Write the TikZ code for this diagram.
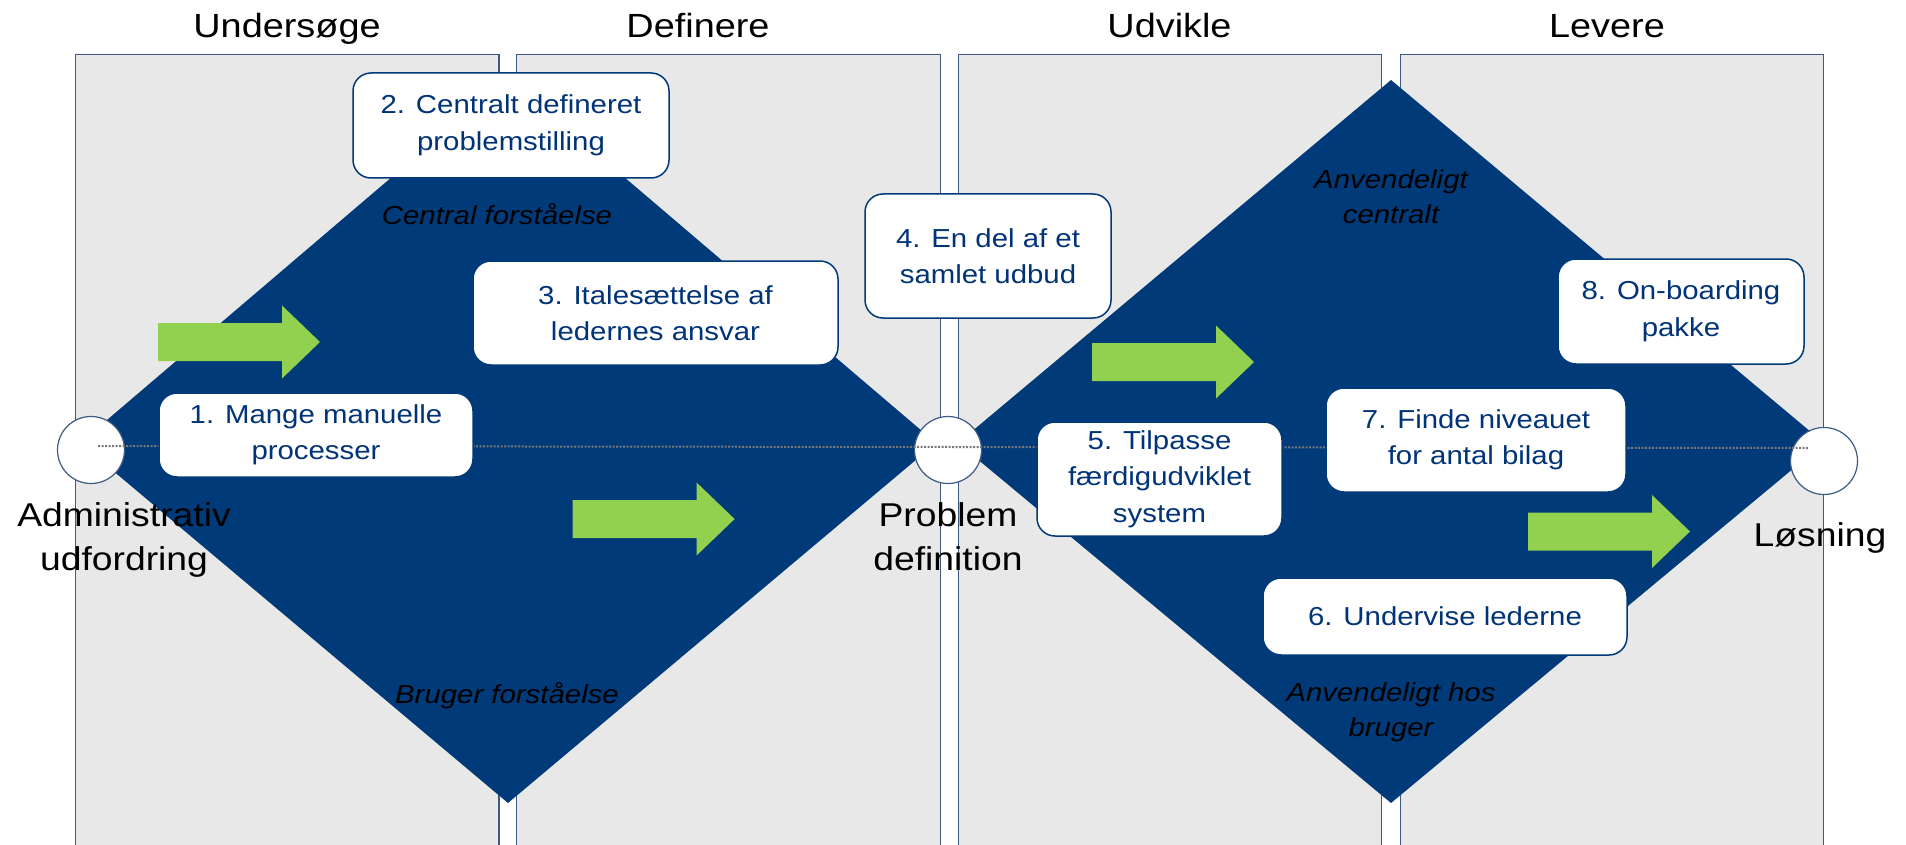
\documentclass[tikz,border=0pt]{standalone}
\usepackage{fontspec}
\setmainfont{Liberation Sans}[FakeStretch=1.13]
\definecolor{navy}{RGB}{0,58,120}
\definecolor{boxtext}{RGB}{0,51,120}
\definecolor{panelgray}{RGB}{232,232,232}
\definecolor{panelline}{RGB}{60,90,130}
\definecolor{lgreen}{RGB}{146,208,80}
\definecolor{dotgray}{RGB}{120,120,120}
\newcommand{\grarrow}[2]{\fill[garrow] (#1,#2) +(0,-19) -- +(124,-19) -- +(124,-36.5) -- +(162,0) -- +(124,36.5) -- +(124,19) -- +(0,19) -- cycle;}
\begin{document}
\begin{tikzpicture}[x=1pt,y=-1pt,
 panel/.style={fill=panelgray,draw=panelline,line width=1.5pt},
 dia/.style={fill=navy},
 box/.style={draw=navy,line width=1.5pt,fill=white,rounded corners=18pt,align=center,
   text=boxtext,font=\fontsize{26}{36.5}\selectfont,inner sep=0pt},
 head/.style={anchor=base,font=\fontsize{33.5}{40}\selectfont,text=black},
 outlabel/.style={align=center,font=\fontsize{33}{44}\selectfont,text=black},
 ital/.style={align=center,font=\fontsize{26}{35}\selectfont\itshape,text=black},
 endpt/.style={circle,draw=panelline,fill=white,line width=1.2pt,minimum size=67pt,inner sep=0pt},
 dotline/.style={draw=dotgray,line width=2pt,dash pattern=on 2pt off 1.5pt},
 garrow/.style={fill=lgreen}
]
\useasboundingbox (0,0) rectangle (1906,845);
% panels
\filldraw[panel] (75.5,845) -- (75.5,54.5) -- (499,54.5) -- (499,845);
\filldraw[panel] (516.5,845) -- (516.5,54.5) -- (940.5,54.5) -- (940.5,845);
\filldraw[panel] (958.5,845) -- (958.5,54.5) -- (1381.5,54.5) -- (1381.5,845);
\filldraw[panel] (1400.5,845) -- (1400.5,54.5) -- (1823.5,54.5) -- (1823.5,845);
% headings
\node[head] (h1) at (287,37.5) {Undersøge};
\node[head] (h2) at (698,37.5) {Definere};
\node[head] (h3) at (1169.5,37.5) {Udvikle};
\node[head] (h4) at (1607,37.5) {Levere};
% diamonds
\fill[dia] (80,443) -- (508,78) -- (936,443) -- (508,803) -- cycle;
\fill[dia] (958,443) -- (1391,80) -- (1824,443) -- (1391,803) -- cycle;
% end points
\node[endpt] (adm) at (91,450) {};
\node[endpt] (pd) at (948,450) {};
\node[endpt] (los) at (1824,461) {};
\coordinate (dl) at (98,446);
\coordinate (dr) at (1809,448);
\draw[dotline] (dl) -- (dr);
% italic labels
\node[ital] (cf) at (497,214) {Central forståelse};
\node[ital] (bf) at (507,696) {Bruger forståelse};
\node[ital] (ac) at (1391,197) {Anvendeligt\\centralt};
\node[ital] (ahb) at (1391,712) {Anvendeligt hos\\bruger};
% arrows
\grarrow{158}{342}
\grarrow{572.6}{519}
\grarrow{1092}{362}
\grarrow{1528}{531.5}
% boxes
\node[box,minimum width=314pt,minimum height=84pt] (b1) at (316,435) {1. Mange manuelle\\processer};
\node[box,minimum width=316pt,minimum height=105pt] (b2) at (511,125.5) {2. Centralt defineret\\problemstilling};
\node[box,minimum width=365pt,minimum height=104pt] (b3) at (655.5,313) {3. Italesættelse af\\ledernes ansvar};
\node[box,minimum width=246pt,minimum height=124pt] (b4) at (988,256) {4. En del af et\\samlet udbud};
\node[box,minimum width=245pt,minimum height=114pt] (b5) at (1159.5,479) {5. Tilpasse\\færdigudviklet\\system};
\node[box,minimum width=364pt,minimum height=77pt] (b6) at (1445,616.5) {6. Undervise lederne};
\node[box,minimum width=300pt,minimum height=104pt] (b7) at (1476,440) {7. Finde niveauet\\for antal bilag};
\node[box,minimum width=246pt,minimum height=105pt] (b8) at (1681,311.5) {8. On-boarding\\pakke};
% outside labels
\node[outlabel] (ladm) at (124,540) {Administrativ\\udfordring};
\node[outlabel] (lpd) at (948,537) {Problem\\definition};
\node[outlabel] (llos) at (1820,538) {Løsning};
\end{tikzpicture}
\end{document}
